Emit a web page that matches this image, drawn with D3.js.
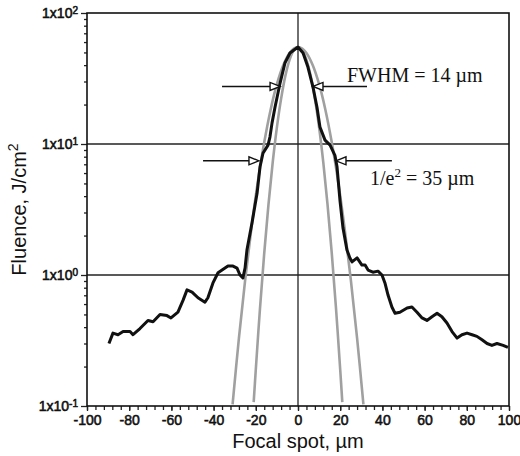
<!DOCTYPE html>
<html>
<head>
<meta charset="utf-8">
<script src="https://cdn.jsdelivr.net/npm/d3@7"></script>
<style>
  body { margin: 0; background: #fff; }
</style>
</head>
<body>
<div id="chart"></div>
<script>
// measured fluence profile (black)
const measuredX = [-89.6, -87.7, -85.3, -82.9, -79.6, -78.2, -74.9, -71.1, -68.7, -65.4, -62.1, -60.2, -56.9, -54.5, -52.6, -50.2, -47.4, -44.1, -42.7, -40.3, -37.9, -34.6, -33.2, -30.8, -28.9, -27.5, -26.1, -25.1, -24.2, -21.8, -19.4, -18.0, -16.6, -14.2, -13.3, -12.3, -10.9, -8.5, -6.2, -3.8, 0, 2.4, 4.7, 7.1, 9.0, 10.4, 12.8, 15.2, 17.5, 18.5, 19.9, 21.3, 23.2, 24.6, 25.6, 28.0, 30.3, 31.8, 33.2, 35.5, 37.9, 39.8, 41.2, 42.7, 44.5, 46.0, 48.3, 51.7, 54.0, 56.4, 58.8, 61.1, 63.5, 65.9, 68.2, 70.6, 73.0, 75.4, 77.7, 80.1, 82.5, 84.8, 87.2, 89.6, 91.9, 94.3, 97.2, 99.5];
const measuredF = [0.30, 0.36, 0.35, 0.37, 0.37, 0.35, 0.39, 0.45, 0.44, 0.50, 0.49, 0.47, 0.52, 0.64, 0.77, 0.74, 0.67, 0.62, 0.67, 0.87, 1.04, 1.13, 1.17, 1.17, 1.13, 1.0, 0.95, 1.13, 1.55, 2.5, 4.2, 6.7, 8.5, 9.8, 11.3, 14.5, 19.1, 29.2, 41.5, 49.5, 55, 49.5, 38.7, 27.2, 19.1, 13.5, 10.7, 9.8, 8.2, 6.7, 3.7, 2.3, 1.55, 1.35, 1.26, 1.35, 1.19, 1.19, 1.09, 1.05, 1.07, 1.0, 0.87, 0.70, 0.57, 0.51, 0.52, 0.56, 0.57, 0.52, 0.47, 0.45, 0.48, 0.51, 0.48, 0.43, 0.37, 0.33, 0.35, 0.36, 0.35, 0.34, 0.32, 0.30, 0.29, 0.30, 0.29, 0.28];

// gaussian fits (gray)
const fitWideX = [-31, -28, -25, -22, -19, -16, -13, -10, -7, -4, -2, 0, 2, 4, 7, 10, 13, 16, 19, 22, 25, 28, 31];
const fitWideF = [0.103, 0.33, 0.93, 2.33, 5.2, 10.3, 18.2, 28.6, 39.9, 49.5, 53.6, 55, 53.6, 49.5, 39.9, 28.6, 18.2, 10.3, 5.2, 2.33, 0.93, 0.33, 0.103];
const fitNarrowX = [-21, -20, -18, -16, -14, -12, -10, -8, -6, -4, -2, 0, 2, 4, 6, 8, 10, 12, 14, 16, 18, 20, 21];
const fitNarrowF = [0.107, 0.19, 0.56, 1.47, 3.44, 7.2, 13.4, 22.2, 33.1, 43.9, 52.0, 55, 52.0, 43.9, 33.1, 22.2, 13.4, 7.2, 3.44, 1.47, 0.56, 0.19, 0.107];

// axes
const xTickLabels = [-100, -80, -60, -40, -20, 0, 20, 40, 60, 80, 100];
const yMajorTicks = [0.1, 1, 10, 100];
const yExponents = [-1, 0, 1, 2];
const gridY = [1, 10];
const gridX = [0];

// annotations: [level, left arrow start, left tip, right arrow start, right tip]
const fwhmArrow = [27.5, -36, -8.5, 32.7, 7.1];
const e2Arrow = [7.44, -45, -18.5, 44.5, 18];
const annotationTexts = ["FWHM = 14 \u00b5m", "1/e", "2", " = 35 \u00b5m"];

const width = 520;
const height = 456;
const margin = {top: 13, right: 11, bottom: 50, left: 87};

const svg = d3.select("#chart")
  .append("svg")
  .attr("width", width)
  .attr("height", height);

svg.append("rect").attr("width", width).attr("height", height).attr("fill", "#fff");

const x = d3.scaleLinear()
  .domain([-100, 100])
  .range([margin.left, width - margin.right]);

const y = d3.scaleLog()
  .domain([0.1, 100])
  .range([height - margin.bottom, margin.top]);

// grid lines
svg.append("g").selectAll("line")
  .data(gridY)
  .enter().append("line")
  .attr("x1", margin.left).attr("x2", width - margin.right)
  .attr("y1", d => y(d)).attr("y2", d => y(d))
  .attr("stroke", "#222").attr("stroke-width", 1.3);

svg.append("g").selectAll("line")
  .data(gridX)
  .enter().append("line")
  .attr("x1", d => x(d)).attr("x2", d => x(d))
  .attr("y1", margin.top).attr("y2", height - margin.bottom)
  .attr("stroke", "#222").attr("stroke-width", 1.3);

// x axis: minor ticks every 4, labelled every 20
const xMinor = d3.range(-100, 101, 4);
const xAxisMinor = d3.axisBottom(x).tickValues(xMinor).tickSize(4).tickFormat("");
svg.append("g")
  .attr("transform", `translate(0,${height - margin.bottom})`)
  .call(xAxisMinor)
  .call(g => g.select(".domain").remove())
  .call(g => g.selectAll("line").attr("stroke", "#222").attr("stroke-width", 1.3));

const xAxis = d3.axisBottom(x).tickValues(xTickLabels).tickSize(5).tickPadding(4).tickFormat(d3.format("d"));
svg.append("g")
  .attr("transform", `translate(0,${height - margin.bottom})`)
  .call(xAxis)
  .call(g => g.select(".domain").remove())
  .call(g => g.selectAll("line").attr("stroke", "#222").attr("stroke-width", 1.3))
  .call(g => g.selectAll("text")
    .attr("font-family", "Liberation Sans, Arial, sans-serif")
    .attr("font-size", 14)
    .attr("fill", "#111")
    .attr("stroke", "#111").attr("stroke-width", 0.55)
    .text(d => d < 0 ? "-" + Math.abs(d) : d));

// y axis: log minor ticks
const yMinor = [];
yMajorTicks.slice(0, -1).forEach(dec => {
  for (let k = 2; k <= 9; k++) yMinor.push(dec * k);
});
svg.append("g")
  .attr("transform", `translate(${margin.left},0)`)
  .call(d3.axisLeft(y).tickValues(yMinor).tickSize(3).tickFormat(""))
  .call(g => g.select(".domain").remove())
  .call(g => g.selectAll("line").attr("stroke", "#222").attr("stroke-width", 1.3));

const yAxis = svg.append("g")
  .attr("transform", `translate(${margin.left},0)`)
  .call(d3.axisLeft(y).tickValues(yMajorTicks).tickSize(6).tickPadding(3).tickFormat(""))
  .call(g => g.select(".domain").remove())
  .call(g => g.selectAll("line").attr("stroke", "#222").attr("stroke-width", 1.3));

yAxis.selectAll(".tick text").each(function(d, i) {
  const t = d3.select(this)
    .attr("font-family", "Liberation Sans, Arial, sans-serif")
    .attr("font-size", 14)
    .attr("fill", "#111")
    .attr("stroke", "#111").attr("stroke-width", 0.55)
    .attr("dy", "0.35em");
  t.append("tspan").text("1x10");
  t.append("tspan").attr("dy", "-0.45em").attr("font-size", 10).text(yExponents[i]);
});

// frame
svg.append("rect")
  .attr("x", margin.left).attr("y", margin.top)
  .attr("width", width - margin.left - margin.right)
  .attr("height", height - margin.top - margin.bottom)
  .attr("fill", "none")
  .attr("stroke", "#111").attr("stroke-width", 1.6);

// curves
const line = d3.line()
  .x(d => x(d[0]))
  .y(d => y(d[1]));

const smooth = d3.line()
  .x(d => x(d[0]))
  .y(d => y(d[1]))
  .curve(d3.curveCatmullRom);

svg.append("path")
  .datum(d3.zip(fitWideX, fitWideF))
  .attr("d", smooth)
  .attr("fill", "none")
  .attr("stroke", "#a0a0a0")
  .attr("stroke-width", 2.6);

svg.append("path")
  .datum(d3.zip(fitNarrowX, fitNarrowF))
  .attr("d", smooth)
  .attr("fill", "none")
  .attr("stroke", "#a0a0a0")
  .attr("stroke-width", 2.6);

svg.append("path")
  .datum(d3.zip(measuredX, measuredF))
  .attr("d", line)
  .attr("fill", "none")
  .attr("stroke", "#111")
  .attr("stroke-width", 3)
  .attr("stroke-linejoin", "round");

// arrows with open heads
function drawArrow(level, fromX, tipX) {
  const yy = y(level);
  const dir = tipX > fromX ? 1 : -1;
  const tx = x(tipX);
  const headLen = 10;
  svg.append("line")
    .attr("x1", x(fromX)).attr("x2", tx - dir * headLen)
    .attr("y1", yy).attr("y2", yy)
    .attr("stroke", "#111").attr("stroke-width", 1.6);
  svg.append("path")
    .attr("d", `M${tx},${yy}L${tx - dir * headLen},${yy - 4}L${tx - dir * headLen},${yy + 4}Z`)
    .attr("fill", "#fff")
    .attr("stroke", "#111").attr("stroke-width", 1.4);
}
drawArrow(fwhmArrow[0], fwhmArrow[1], fwhmArrow[2]);
drawArrow(fwhmArrow[0], fwhmArrow[3], fwhmArrow[4]);
drawArrow(e2Arrow[0], e2Arrow[1], e2Arrow[2]);
drawArrow(e2Arrow[0], e2Arrow[3], e2Arrow[4]);

svg.append("text")
  .attr("x", 347).attr("y", 82)
  .attr("font-family", "Liberation Serif, Times New Roman, serif")
  .attr("font-size", 20)
  .attr("fill", "#111")
  .text(annotationTexts[0]);

const e2Text = svg.append("text")
  .attr("x", 370).attr("y", 185)
  .attr("font-family", "Liberation Serif, Times New Roman, serif")
  .attr("font-size", 20)
  .attr("fill", "#111");
e2Text.append("tspan").text(annotationTexts[1]);
e2Text.append("tspan").attr("dy", -8).attr("font-size", 13).text(annotationTexts[2]);
e2Text.append("tspan").attr("dy", 8).text(annotationTexts[3]);

// axis titles
svg.append("text")
  .attr("x", x(0)).attr("y", 448)
  .attr("text-anchor", "middle")
  .attr("font-family", "Liberation Sans, Arial, sans-serif")
  .attr("font-size", 20)
  .attr("fill", "#111")
  .text("Focal spot, \u00b5m");

const yTitle = svg.append("text")
  .attr("transform", `translate(26,${(margin.top + height - margin.bottom) / 2}) rotate(-90)`)
  .attr("text-anchor", "middle")
  .attr("font-family", "Liberation Sans, Arial, sans-serif")
  .attr("font-size", 20)
  .attr("fill", "#111");
yTitle.append("tspan").text("Fluence, J/cm");
yTitle.append("tspan").attr("dy", -8).attr("font-size", 14).text("2");
</script>
</body>
</html>
